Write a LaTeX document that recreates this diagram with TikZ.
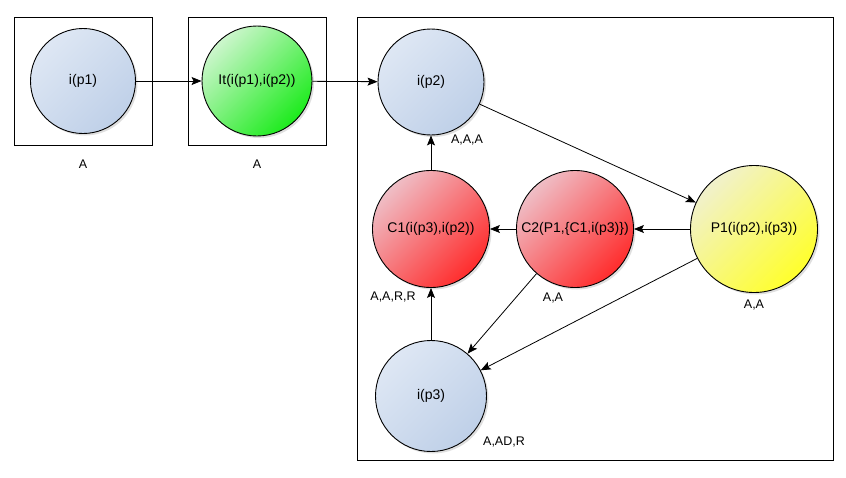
\documentclass[tikz,border=0pt]{standalone}
\usepackage{fontspec}
\setmainfont{Liberation Sans}
\usetikzlibrary{arrows.meta}
\definecolor{blueA}{HTML}{DEE7F4}
\definecolor{blueB}{HTML}{BFD0E8}
\definecolor{greenA}{HTML}{CDF6CD}
\definecolor{greenB}{HTML}{1CEB1C}
\definecolor{redA}{HTML}{EFBEC6}
\definecolor{redB}{HTML}{FF2C2C}
\definecolor{yelA}{HTML}{F1F1CC}
\definecolor{yelB}{HTML}{FFFF2C}
\tikzset{
  state/.style={circle, draw=black, line width=0.9pt, inner sep=0pt,
    font=\fontsize{14}{16}\selectfont},
  shadowed/.style={preaction={fill=black!35, opacity=0.35, transform canvas={shift={(2pt,-2pt)}}}},
  blueS/.style={state, shadowed, top color=blueA, bottom color=blueB, shading angle=45},
  greenS/.style={state, shadowed, top color=greenA, bottom color=greenB, shading angle=45},
  redS/.style={state, shadowed, top color=redA, bottom color=redB, shading angle=45},
  yelS/.style={state, shadowed, top color=yelA, bottom color=yelB, shading angle=45},
  frame/.style={draw=black, line width=0.9pt},
  lab/.style={font=\fontsize{12.5}{14}\selectfont, inner sep=0pt},
  conn/.style={draw=black, line width=0.8pt, -{Stealth[length=10pt,width=8pt,inset=2pt]}}
}
\begin{document}
\begin{tikzpicture}[x=1pt,y=-1pt]
\useasboundingbox (0,0) rectangle (846,477);
\fill[white] (0,0) rectangle (846,477);
% frames
\draw[frame] (14,17) rectangle (152,145);
\draw[frame] (188,17) rectangle (326,145);
\draw[frame] (357,17) rectangle (833,460);
% nodes
\node[blueS, minimum size=105pt] (ip1) at (83,81) {i(p1)};
\node[greenS, minimum size=110pt] (it) at (257,81) {It(i(p1),i(p2))};
\node[blueS, minimum size=106pt] (ip2) at (431,82) {i(p2)};
\node[redS, minimum size=117pt] (c1) at (431,229) {C1(i(p3),i(p2))};
\node[redS, minimum size=117pt] (c2) at (575,229) {C2(P1,\{C1,i(p3)\})};
\node[yelS, minimum size=127pt] (p1) at (754,229) {P1(i(p2),i(p3))};
\node[blueS, minimum size=111pt] (ip3) at (431,396) {i(p3)};
% labels
\node[lab] (l1) at (83,164) {A};
\node[lab] (l2) at (257,164) {A};
\node[lab] (l3) at (467,140) {A,A,A};
\node[lab] (l4) at (393,297) {A,A,R,R};
\node[lab] (l5) at (553,298) {A,A};
\node[lab] (l6) at (754,305) {A,A};
\node[lab] (l7) at (504,442) {A,AD,R};
% connectors
\draw[conn] (ip1) -- (it);
\draw[conn] (it) -- (ip2);
\draw[conn] (ip2) -- (p1);
\draw[conn] (p1) -- (c2);
\draw[conn] (c2) -- (c1);
\draw[conn] (c1) -- (ip2);
\draw[conn] (ip3) -- (c1);
\draw[conn] (c2) -- (ip3);
\draw[conn] (p1) -- (ip3);
\end{tikzpicture}
\end{document}
